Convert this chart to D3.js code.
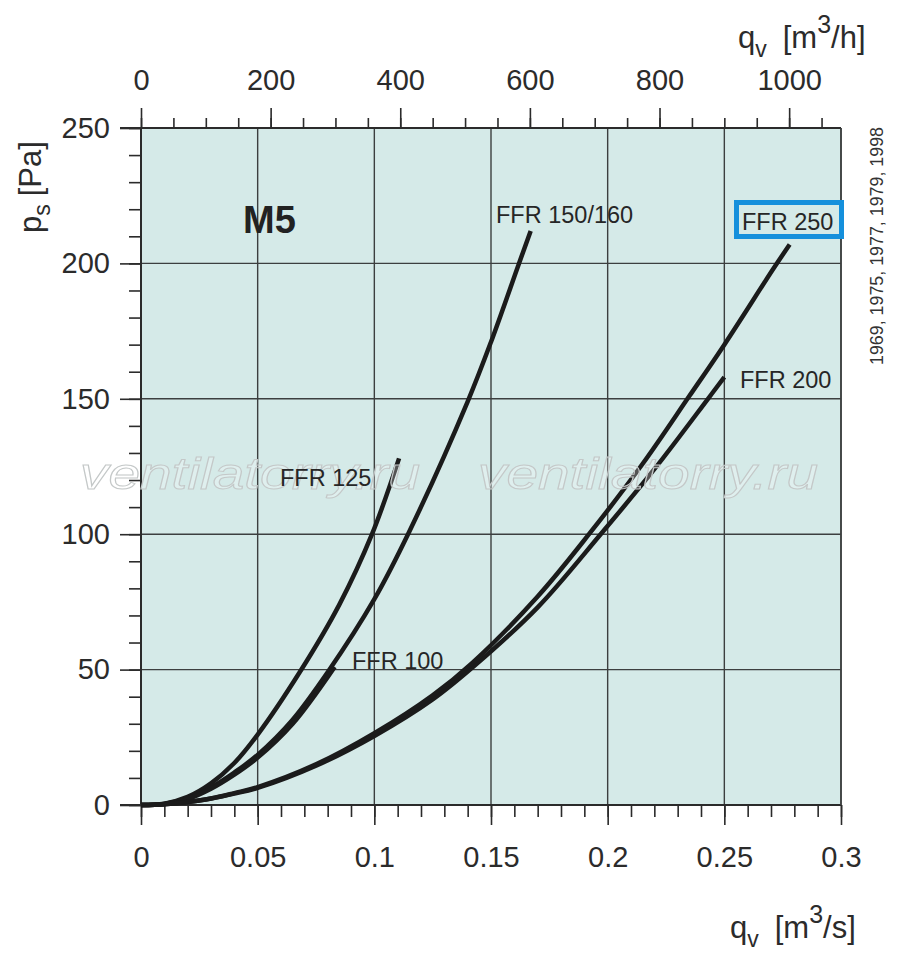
<!DOCTYPE html>
<html>
<head>
<meta charset="utf-8">
<script src="https://cdn.jsdelivr.net/npm/d3@7"></script>
<style>
  body { margin: 0; background: #fff; }
  svg { font-family: "Liberation Sans", Arial, sans-serif; }
</style>
</head>
<body>
<div id="chart"></div>
<script>
// Data (q in m3/s, p in Pa)
const q125 = [0, 0.01, 0.02, 0.03, 0.04, 0.05, 0.068, 0.085, 0.099, 0.1106];
const p125 = [0, 0.5, 3, 8, 15.5, 26, 49, 74, 100, 128];

const q150 = [0, 0.01, 0.02, 0.03, 0.04, 0.05, 0.065, 0.08, 0.1, 0.115, 0.14, 0.15, 0.162, 0.167];
const p150 = [0, 0.4, 2.5, 6.5, 12, 18.5, 31.5, 49, 76, 101, 149, 171, 200, 212];

const q100 = [0, 0.01, 0.02, 0.03, 0.04, 0.05, 0.065, 0.083];
const p100 = [0, 0.4, 2.2, 6, 11.2, 17.5, 30, 51];

const q200 = [0, 0.01, 0.02, 0.03, 0.04, 0.05, 0.075, 0.1, 0.125, 0.143, 0.17, 0.197, 0.22, 0.243, 0.25];
const p200 = [0, 0.3, 1.1, 2.4, 4.2, 6.3, 14.5, 25.5, 39, 51.5, 73, 100, 124, 150, 158];

const q250 = [0, 0.01, 0.02, 0.03, 0.04, 0.05, 0.075, 0.1, 0.125, 0.142, 0.17, 0.192, 0.215, 0.235, 0.25, 0.271, 0.278];
const p250 = [0, 0.3, 1.1, 2.4, 4.4, 6.6, 15, 26.5, 40.5, 52.5, 77, 100, 126, 151, 170, 198, 207];

const seriesNames = ['FFR 125', 'FFR 150/160', 'FFR 100', 'FFR 200', 'FFR 250'];

const xTicks = [0, 0.05, 0.1, 0.15, 0.2, 0.25, 0.3];
const yTicks = [0, 50, 100, 150, 200, 250];
const topTicks = [0, 200, 400, 600, 800, 1000];

const w = 900, h = 963;
const pLeft = 141, pRight = 841, pTop = 128, pBottom = 805;

const svg = d3.select('#chart')
  .append('svg')
  .attr('width', w)
  .attr('height', h);

// Scales
const xScale = d3.scaleLinear().domain([0, 0.3]).range([pLeft, pRight]);
const yScale = d3.scaleLinear().domain([0, 250]).range([pBottom, pTop]);
const topScale = d3.scaleLinear().domain([0, 0.3 * 3600]).range([pLeft, pRight]);

// Plot background
svg.append('rect')
  .attr('x', pLeft).attr('y', pTop)
  .attr('width', pRight - pLeft).attr('height', pBottom - pTop)
  .attr('fill', '#d5eae8');

// Grid
const grid = svg.append('g').attr('stroke', '#3c3f3f').attr('stroke-width', 1.4);
grid.selectAll('.vg')
  .data(xTicks.slice(1))
  .enter().append('line')
  .attr('x1', d => xScale(d)).attr('x2', d => xScale(d))
  .attr('y1', pTop).attr('y2', pBottom);
grid.selectAll('.hg')
  .data(yTicks.slice(1))
  .enter().append('line')
  .attr('x1', pLeft).attr('x2', pRight)
  .attr('y1', d => yScale(d)).attr('y2', d => yScale(d));

// Axes
const fmt = d3.format('~g');
const styleAxis = (g, fs) => {
  g.select('.domain').remove();
  g.selectAll('line').attr('stroke', '#2b2b2b').attr('stroke-width', 1.6);
  g.selectAll('text').attr('fill', '#2b2b2b').style('font-size', fs + 'px').style('font-family', '"Liberation Sans", Arial, sans-serif');
};

svg.append('g')
  .attr('transform', 'translate(0,' + pBottom + ')')
  .call(d3.axisBottom(xScale).tickValues(d3.range(0, 0.3001, 0.01)).tickSize(12).tickFormat(''))
  .call(g => styleAxis(g, 0));
svg.append('g')
  .attr('transform', 'translate(0,' + pBottom + ')')
  .call(d3.axisBottom(xScale).tickValues(xTicks).tickSize(20).tickPadding(21).tickFormat(fmt))
  .call(g => styleAxis(g, 29));

svg.append('g')
  .attr('transform', 'translate(' + pLeft + ',0)')
  .call(d3.axisLeft(yScale).tickValues(d3.range(0, 251, 10)).tickSize(12).tickFormat(''))
  .call(g => styleAxis(g, 0));
svg.append('g')
  .attr('transform', 'translate(' + pLeft + ',0)')
  .call(d3.axisLeft(yScale).tickValues(yTicks).tickSize(21).tickPadding(10).tickFormat(fmt))
  .call(g => styleAxis(g, 29));

svg.append('g')
  .attr('transform', 'translate(0,' + pTop + ')')
  .call(d3.axisTop(topScale).tickValues(d3.range(0, 1051, 50)).tickSize(10).tickFormat(''))
  .call(g => styleAxis(g, 0));
svg.append('g')
  .attr('transform', 'translate(0,' + pTop + ')')
  .call(d3.axisTop(topScale).tickValues(topTicks).tickSize(20).tickPadding(18).tickFormat(fmt))
  .call(g => styleAxis(g, 29));

// Frame lines
svg.append('line').attr('x1', pLeft).attr('x2', pLeft).attr('y1', pTop).attr('y2', pBottom)
  .attr('stroke', '#2b2b2b').attr('stroke-width', 2);
svg.append('line').attr('x1', pLeft - 21).attr('x2', pRight).attr('y1', pBottom).attr('y2', pBottom)
  .attr('stroke', '#2b2b2b').attr('stroke-width', 2);
svg.append('line').attr('x1', pLeft - 21).attr('x2', pRight).attr('y1', pTop).attr('y2', pTop)
  .attr('stroke', '#2b2b2b').attr('stroke-width', 2);
svg.append('line').attr('x1', pRight).attr('x2', pRight).attr('y1', pTop).attr('y2', pBottom)
  .attr('stroke', '#3c3f3f').attr('stroke-width', 1.6);

// Curves
const line = d3.line()
  .x(d => xScale(d[0]))
  .y(d => yScale(d[1]))
  .curve(d3.curveCatmullRom.alpha(0.5));
const curves = [
  [q125, p125], [q150, p150], [q100, p100], [q200, p200], [q250, p250]
];
svg.selectAll('.curve')
  .data(curves)
  .enter().append('path')
  .attr('class', 'curve')
  .attr('d', d => line(d[0].map((q, i) => [q, d[1][i]])))
  .attr('fill', 'none')
  .attr('stroke', '#1b1b1b')
  .attr('stroke-width', 4.5);

// Watermark
['ventilatorry.ru', 'ventilatorry.ru'].forEach((t, i) => {
  svg.append('text')
    .attr('x', i === 0 ? 80 : 478)
    .attr('y', 489)
    .attr('textLength', 340)
    .attr('lengthAdjust', 'spacingAndGlyphs')
    .style('font-size', '44px')
    .style('font-style', 'italic')
    .attr('fill', 'rgba(255,255,255,0.25)')
    .attr('stroke', '#c4c8c8')
    .attr('stroke-width', 1)
    .text(t);
});

// Curve labels
const labelPos = [[280, 486], [496, 223], [352, 669], [740, 388], [742, 230]];
svg.selectAll('.lbl')
  .data(seriesNames)
  .enter().append('text')
  .attr('x', (d, i) => labelPos[i][0])
  .attr('y', (d, i) => labelPos[i][1])
  .attr('fill', '#262626')
  .style('font-size', '23.5px')
  .text(d => d);

// Highlight box around FFR 250
svg.append('rect')
  .attr('x', 736.5).attr('y', 202.5)
  .attr('width', 105).attr('height', 34)
  .attr('fill', 'none')
  .attr('stroke', '#1590dc')
  .attr('stroke-width', 5);

// M5
svg.append('text')
  .attr('x', 243).attr('y', 233)
  .attr('fill', '#222')
  .style('font-size', '38px')
  .style('font-weight', 'bold')
  .text('M5');

// Axis titles
const tTop = svg.append('text').attr('x', 738).attr('y', 48).attr('fill', '#2b2b2b').style('font-size', '31px');
tTop.append('tspan').text('q');
tTop.append('tspan').attr('dy', 9).style('font-size', '23px').text('v');
tTop.append('tspan').attr('dy', -9).attr('dx', 16).text('[m');
tTop.append('tspan').attr('dy', -15).style('font-size', '25px').text('3');
tTop.append('tspan').attr('dy', 15).text('/h]');

const tBot = svg.append('text').attr('x', 730).attr('y', 938).attr('fill', '#2b2b2b').style('font-size', '31px');
tBot.append('tspan').text('q');
tBot.append('tspan').attr('dy', 9).style('font-size', '23px').text('v');
tBot.append('tspan').attr('dy', -9).attr('dx', 16).text('[m');
tBot.append('tspan').attr('dy', -15).style('font-size', '25px').text('3');
tBot.append('tspan').attr('dy', 15).text('/s]');

const tLeft = svg.append('text')
  .attr('transform', 'translate(41,233) rotate(-90)')
  .attr('fill', '#2b2b2b').style('font-size', '31px');
tLeft.append('tspan').text('p');
tLeft.append('tspan').attr('dy', 9).style('font-size', '23px').text('s');
tLeft.append('tspan').attr('dy', -9).attr('dx', 8).text('[Pa]');

// Years note on the right
svg.append('text')
  .attr('transform', 'translate(883,365) rotate(-90)')
  .attr('fill', '#333')
  .attr('textLength', 238)
  .attr('lengthAdjust', 'spacingAndGlyphs')
  .style('font-size', '19px')
  .text('1969, 1975, 1977, 1979, 1998');
</script>
</body>
</html>
